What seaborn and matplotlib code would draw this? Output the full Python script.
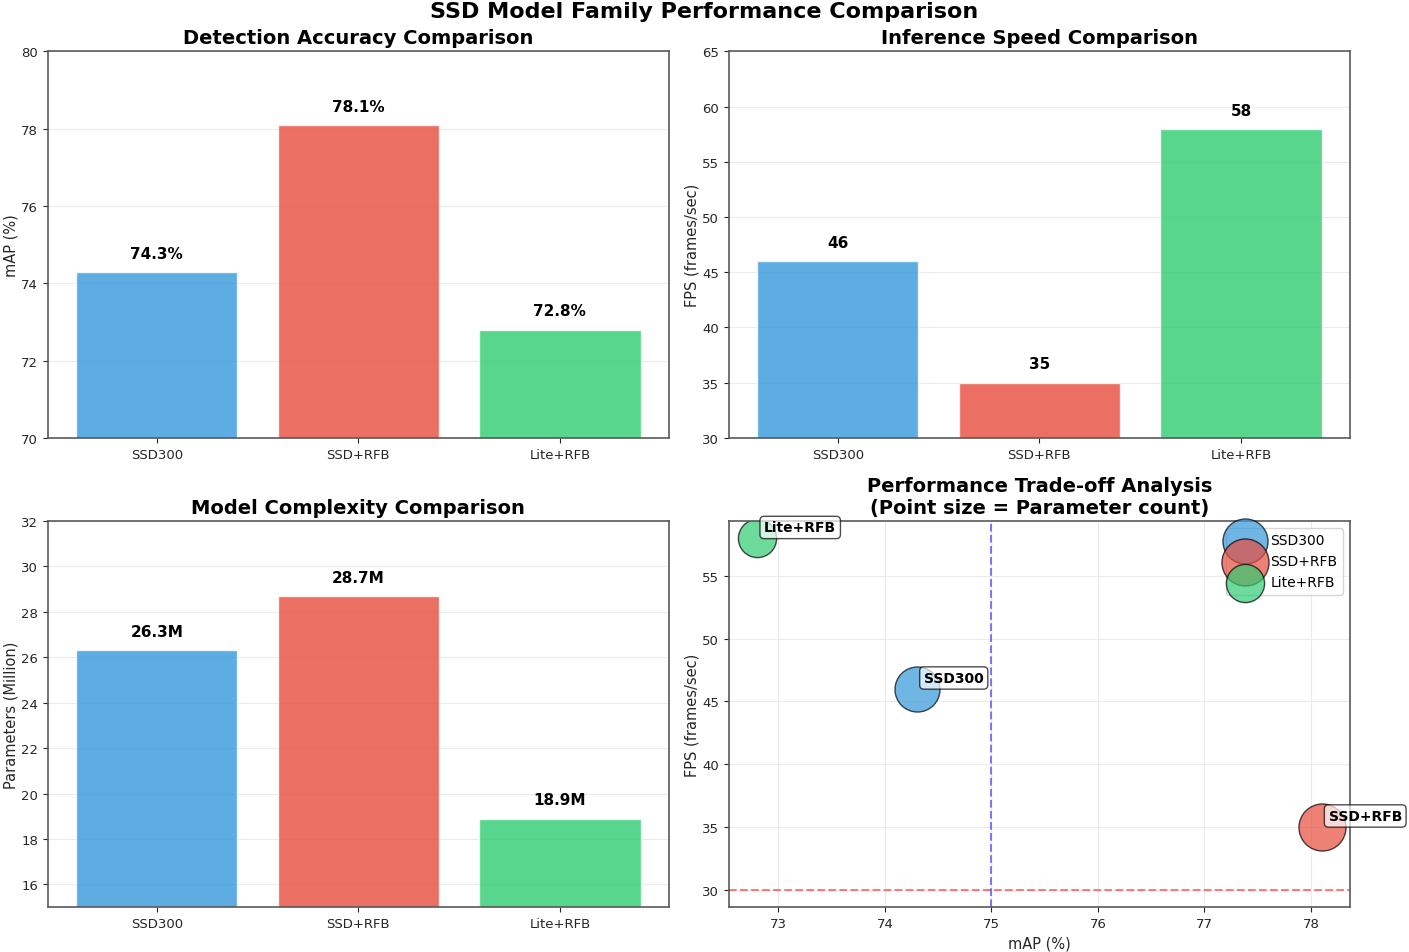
import pandas as pd
import matplotlib
matplotlib.use("Agg")
import matplotlib.pyplot as plt
import seaborn as sns

# ===== DATA =====
models = ["SSD300", "SSD+RFB", "Lite+RFB"]
map_vals = [74.3, 78.1, 72.8]
fps_vals = [46, 35, 58]
params_vals = [26.3, 28.7, 18.9]
colors = ["#3498db", "#e74c3c", "#2ecc71"]

df = pd.DataFrame({"model": models, "mAP": map_vals, "FPS": fps_vals, "params": params_vals})

sns.set_style("whitegrid", {"axes.edgecolor": ".35", "xtick.bottom": True, "ytick.left": True,
                            "grid.color": ".92", "text.color": "black",
                            "axes.labelcolor": ".15"})
plt.rcParams["font.family"] = ["DejaVu Sans"]
plt.rcParams["axes.linewidth"] = 1.2
plt.rcParams["xtick.labelsize"] = 9.5
plt.rcParams["ytick.labelsize"] = 9.5

fig, axes = plt.subplots(2, 2, figsize=(14.09, 9.53), dpi=100)
fig.suptitle("SSD Model Family Performance Comparison", fontsize=16, fontweight="bold", y=0.998)

palette = dict(zip(models, colors))


def bar_panel(ax, col, title, ylabel, ylim, fmt):
    sns.barplot(data=df, x="model", y=col, hue="model", palette=palette, alpha=0.8,
                saturation=1, legend=False, ax=ax, width=0.8)
    ax.set_title(title, fontsize=14, fontweight="bold")
    ax.set_ylabel(ylabel, fontsize=10.5, labelpad=2)
    ax.set_xlabel("")
    ax.set_ylim(*ylim)
    ax.set_xlim(-0.54, 2.54)
    for i, v in enumerate(df[col]):
        ax.annotate(fmt.format(v), (i, v), xytext=(0, 8), textcoords="offset points",
                    ha="center", va="bottom", fontsize=11, fontweight="bold")


bar_panel(axes[0, 0], "mAP", "Detection Accuracy Comparison", "mAP (%)", (70, 80), "{:.1f}%")
bar_panel(axes[0, 1], "FPS", "Inference Speed Comparison", "FPS (frames/sec)", (30, 65), "{:d}")
bar_panel(axes[1, 0], "params", "Model Complexity Comparison", "Parameters (Million)", (15, 32), "{:.1f}M")

# ===== TRADE-OFF SCATTER =====
ax = axes[1, 1]
for m, x, y, p, c in zip(models, map_vals, fps_vals, params_vals, colors):
    sns.scatterplot(x=[x], y=[y], s=p * 40, color=c, alpha=0.7, edgecolor=(0, 0, 0, 0.6),
                    linewidth=1, label=m, ax=ax)
    ax.annotate(m, (x, y), xytext=(5, 5), textcoords="offset points", fontsize=10,
                fontweight="bold",
                bbox=dict(boxstyle="round,pad=0.3", facecolor="white", edgecolor="black",
                          alpha=0.7))
ax.axhline(30, color="red", linestyle="--", alpha=0.5)
ax.axvline(75, color="blue", linestyle="--", alpha=0.5)
ax.set_title("Performance Trade-off Analysis\n(Point size = Parameter count)", fontsize=14,
             fontweight="bold")
ax.set_xlabel("mAP (%)", fontsize=10.5)
ax.set_ylabel("FPS (frames/sec)", fontsize=10.5, labelpad=2)
ax.legend(loc="upper right", fontsize=10)

plt.subplots_adjust(left=0.034, right=0.958, top=0.945, bottom=0.047, wspace=0.097, hspace=0.215)
plt.savefig("out.png", dpi=100)
plt.close()
